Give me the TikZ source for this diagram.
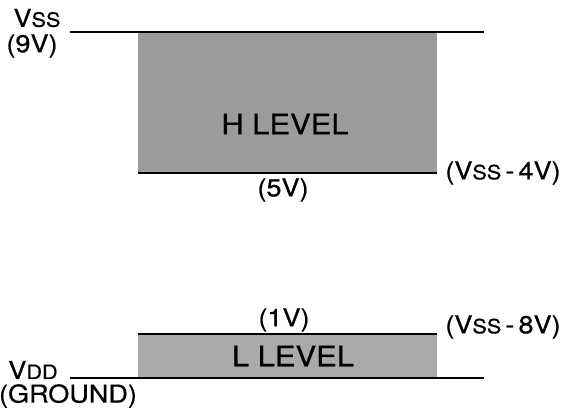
\documentclass[tikz,border=0pt]{standalone}
\usepackage{fontspec}
\setmainfont[FakeStretch=1.1, FakeBold=0.6]{TeX Gyre Heros}
\usepackage{tikz}
\usetikzlibrary{positioning}
\usepackage{xcolor}
\definecolor{screen}{RGB}{155,155,155}
\definecolor{screenlight}{RGB}{170,170,170}
\newcommand{\vsub}[1]{V{\fontsize{14}{16}\selectfont #1}}

\begin{document}
\begin{tikzpicture}[x=0.25mm, y=-0.25mm,
    font=\fontsize{17.5}{20}\selectfont,
    band/.style={rectangle, fill=screen, draw=none, inner sep=0pt,
                 minimum width=74.75mm},
    bandtext/.style={inner sep=0pt, font=\fontsize{20}{22}\selectfont},
    level/.style={line width=0.6mm, black},
    lbl/.style={inner sep=0pt},
]
\useasboundingbox (0,0) rectangle (568,412);

% ─── H level: from Vss down to Vss-4V ─────────────────────────────
\node[band, minimum height=35.25mm] (hband) at (287.5,102.5) {};
\node[bandtext] (hlabel) at (285,124) {H LEVEL};

\coordinate (vssL) at (70,32);
\coordinate (vssR) at (484,32);
\draw[level] (vssL) -- (vssR);
\draw[level] (hband.south west) -- (hband.south east);

\node[lbl] (vss)  at (37,18) {\vsub{SS}};
\node[lbl] (nine) at (32,46) {(9V)};
\node[lbl] (five) at (283,190) {(5V)};
\node[lbl] (vss4) at (503,173) {(\vsub{SS}\,-\,4V)};

% ─── L level: from Vdd up to Vss-8V ───────────────────────────────
\node[band, fill=screenlight, minimum height=11mm] (lband) at (287.5,356) {};
\node[bandtext] (llabel) at (293,356) {L LEVEL};

\coordinate (vddL) at (70,378);
\coordinate (vddR) at (484,378);
\draw[level] (lband.north west) -- (lband.north east);
\draw[level] (vddL) -- (vddR);

\node[lbl] (one)    at (284,320) {(1V)};
\node[lbl] (vss8)   at (503,327) {(\vsub{SS}\,-\,8V)};
\node[lbl] (vdd)    at (33,370) {\vsub{DD}};
\node[lbl] (ground) at (68,396) {(GROUND)};

\end{tikzpicture}
\end{document}
